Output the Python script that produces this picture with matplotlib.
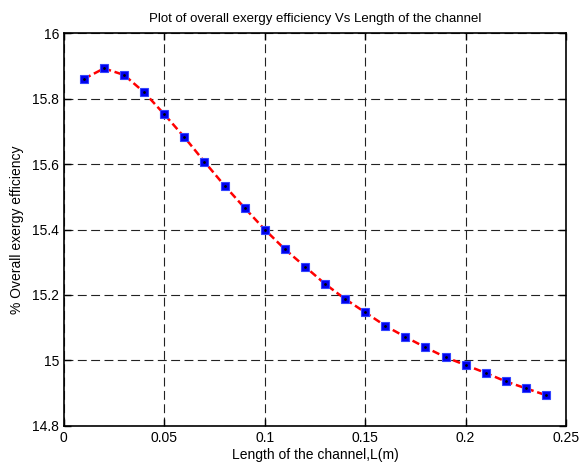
import numpy as np
import matplotlib.pyplot as plt

# data
L = [0.01, 0.02, 0.03, 0.04, 0.05, 0.06, 0.07, 0.08, 0.09, 0.10, 0.11, 0.12,
     0.13, 0.14, 0.15, 0.16, 0.17, 0.18, 0.19, 0.20, 0.21, 0.22, 0.23, 0.24]
eff = [15.860, 15.892, 15.872, 15.819, 15.752, 15.682, 15.607, 15.534,
       15.466, 15.400, 15.340, 15.287, 15.234, 15.188, 15.147, 15.106,
       15.072, 15.040, 15.010, 14.986, 14.962, 14.936, 14.915, 14.894]
xticks = [0, 0.05, 0.1, 0.15, 0.2, 0.25]
yticks = [14.8, 15, 15.2, 15.4, 15.6, 15.8, 16]

plt.rcParams['font.family'] = ['Liberation Sans', 'DejaVu Sans']
plt.rcParams['font.size'] = 10

fig = plt.figure(figsize=(5.8, 4.72), dpi=100)
ax = fig.add_axes([0.110, 0.0975, 0.866, 0.8325])

ax.plot(L, eff, color='red', linestyle='--', linewidth=1.8, dashes=(3, 1.5),
        marker='s', markersize=5.5, markerfacecolor='#0000ee',
        markeredgecolor='#3344ff', markeredgewidth=0.8, zorder=3)
ax.plot(L, eff, linestyle='none', marker='.', markersize=2, color='black', zorder=4)

ax.set_xlim(0, 0.25)
ax.set_ylim(14.8, 16)
ax.set_xticks(xticks)
ax.set_xticklabels(['0', '0.05', '0.1', '0.15', '0.2', '0.25'])
ax.set_yticks(yticks)
ax.set_yticklabels(['14.8', '15', '15.2', '15.4', '15.6', '15.8', '16'])
ax.tick_params(direction='in', top=True, right=True, length=5, width=1)
ax.grid(True, color='#222222', linestyle=(0, (8, 4)), linewidth=0.8)
for s in ax.spines.values():
    s.set_linewidth(1.2)

ax.set_xlabel('Length of the channel,L(m)', labelpad=2)
ax.set_ylabel('% Overall exergy efficiency', labelpad=6)
ax.set_title('Plot of overall exergy efficiency Vs Length of the channel',
             fontsize=9.5, pad=8)

fig.savefig('out.png', dpi=100)
